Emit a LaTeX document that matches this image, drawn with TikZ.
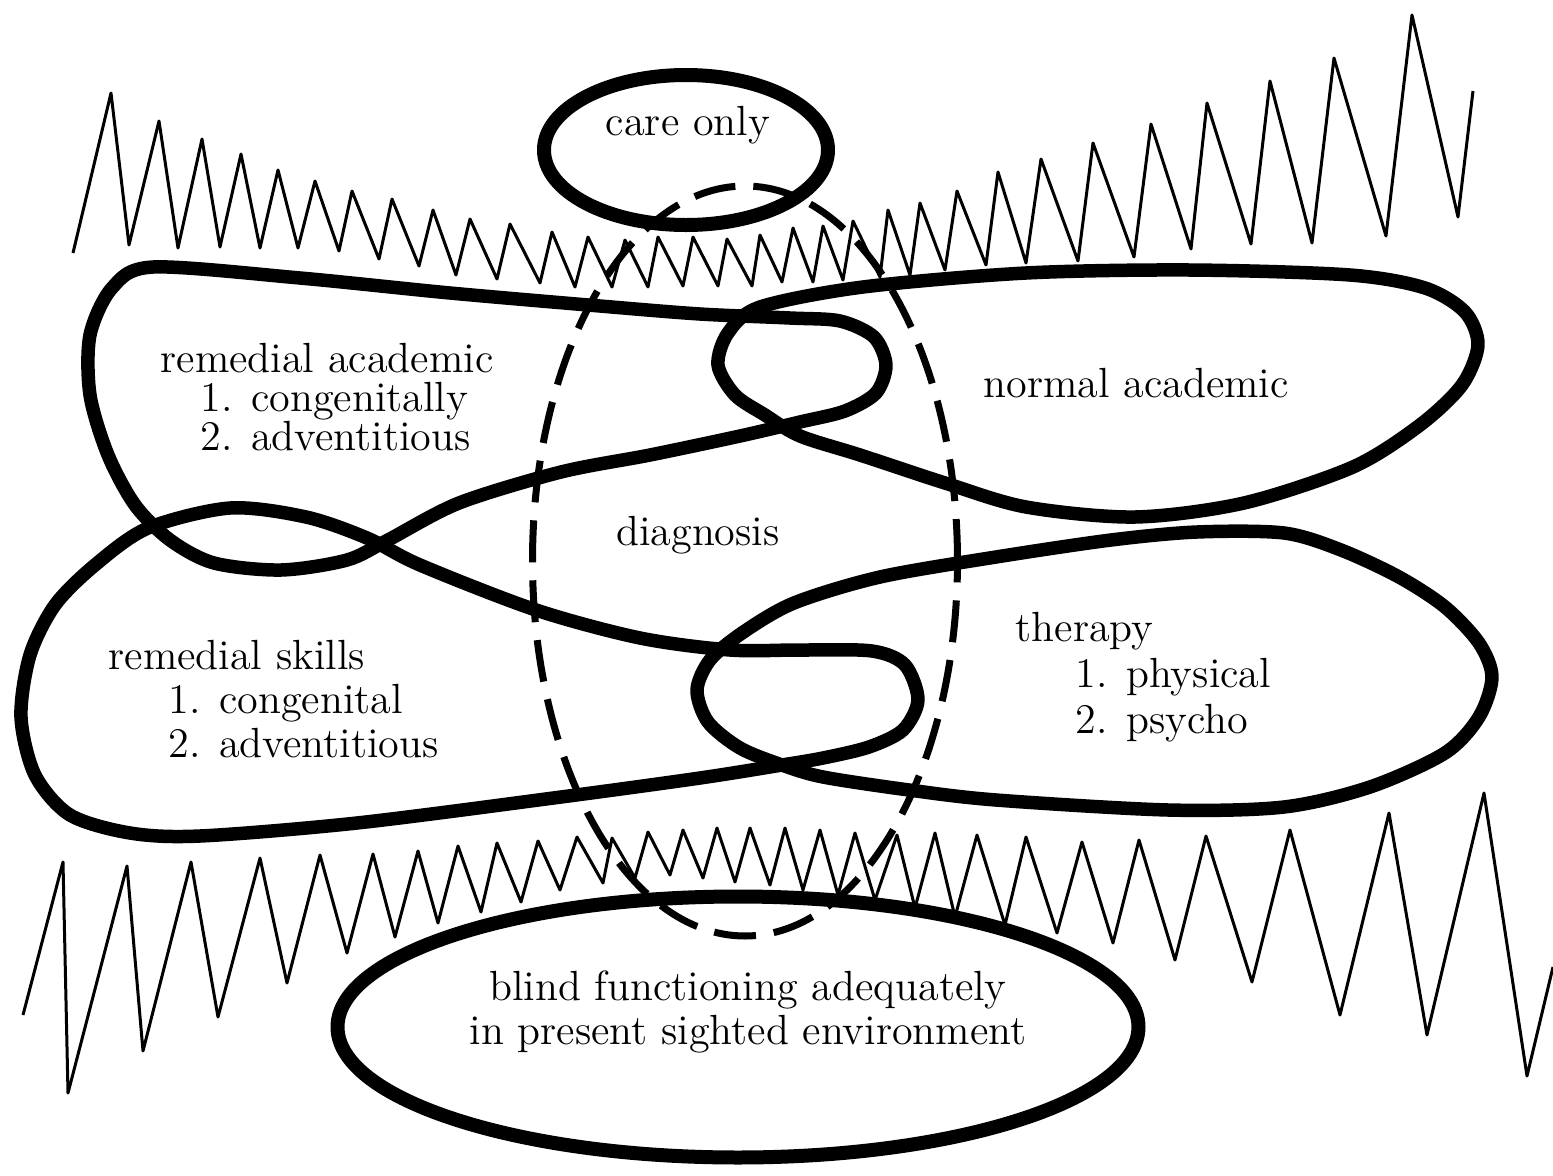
\documentclass[tikz,border=0pt]{standalone}
\usepackage{tikz}
\usetikzlibrary{shapes.geometric}

\begin{document}
\begin{tikzpicture}[x=0.1mm, y=-0.1mm,
  lobe/.style={line width=1.35mm, line join=round},
  oval/.style={draw, ellipse, line width=1.4mm, inner sep=0pt},
  probe/.style={draw, ellipse, line width=0.7mm, dash pattern=on 4.2mm off 1.8mm, inner sep=0pt},
  zig/.style={line width=0.3mm, line join=round},
  hand/.style={font=\fontsize{12}{11}\selectfont, inner sep=0pt, align=left}
]
  \useasboundingbox (0,0) rectangle (1553,1176);

  \draw[zig] plot coordinates {(73,253) (111,93) (129,245) (159,121) (178,248) (202,139) (220,247) (241,154) (260,248) (278,170) (298,248) (315,181) (339,251) (352,191) (379,259) (392,199) (419,266) (433,210) (456,275) (470,219) (497,279) (510,224) (540,283) (552,232) (575,287) (588,237) (612,287) (625,240) (648,287) (658,237) (683,286) (693,237) (718,286) (727,239) (752,286) (760,235) (782,282) (793,228) (813,282) (823,226) (843,280) (853,221) (880,277) (888,210) (910,275) (920,203) (945,270) (957,191) (986,265) (998,172) (1026,263) (1041,159) (1078,261) (1093,143) (1134,257) (1151,124) (1191,249) (1207,103) (1251,244) (1270,81) (1312,243) (1334,58) (1386,236) (1412,15) (1458,217) (1473,91)};
  \draw[zig] plot coordinates {(23,1015) (63,862) (68,1093) (127,866) (143,1051) (191,862) (218,1017) (260,858) (287,983) (320,855) (347,953) (373,854) (395,937) (418,851) (438,923) (458,846) (481,912) (497,843) (521,902) (538,841) (560,890) (577,837) (603,883) (612,838) (635,878) (648,832) (670,875) (683,830) (703,878) (717,828) (735,882) (750,828) (770,885) (785,828) (803,890) (820,830) (838,895) (855,833) (875,900) (897,835) (915,908) (935,833) (955,917) (977,835) (1005,925) (1026,837) (1057,933) (1082,842) (1113,943) (1139,840) (1175,960) (1206,836) (1252,982) (1290,830) (1340,1015) (1389,813) (1427,1035) (1484,793) (1527,1076) (1553,967)};

  \draw[lobe] plot[smooth cycle] coordinates {(153,267) (300,278) (450,293) (600,306) (700,314) (790,318) (840,321) (874,337) (886,365) (876,393) (845,411) (800,422) (740,436) (650,455) (561,472) (459,503) (388,540) (347,560) (281,570) (214,563) (170,540) (135,505) (108,455) (90,395) (90,335) (112,288)};
  \draw[lobe] plot[smooth cycle] coordinates {(760,307) (863,287) (1026,273) (1190,270) (1350,275) (1425,288) (1465,312) (1478,345) (1462,385) (1420,425) (1353,467) (1244,503) (1135,517) (1026,507) (945,483) (860,455) (800,436) (765,415) (735,395) (718,365) (728,333)};
  \draw[lobe] plot[smooth cycle] coordinates {(148,528) (230,508) (306,517) (367,538) (420,565) (536,610) (640,638) (730,650) (800,650) (872,651) (905,665) (918,700) (903,730) (869,747) (823,758) (782,765) (700,778) (561,797) (357,823) (200,836) (130,833) (70,815) (35,775) (21,717) (30,655) (55,605) (95,565)};
  \draw[lobe] plot[smooth cycle] coordinates {(782,765) (823,777) (909,790) (996,800) (1168,810) (1284,807) (1370,787) (1445,753) (1479,717) (1492,677) (1479,643) (1445,607) (1399,577) (1341,550) (1284,533) (1197,532) (1111,540) (996,557) (880,577) (794,603) (742,633) (710,660) (697,690) (708,722) (740,748)};

  \node[oval, minimum width=28.4mm, minimum height=15mm] (care) at (686,150) {};
  \node[oval, minimum width=80.1mm, minimum height=26.1mm] (blind) at (738,1027) {};
  \node[probe, minimum width=42.5mm, minimum height=75mm] (diag) at (745,561) {};

  \node[hand] (careText) at (688,125) {care only};
  \node[hand] (diagText) at (698,535) {diagnosis};
  \node[hand] (normAcad) at (1136,383) {normal academic};
  \node[hand, anchor=north west] (remAcad) at (160,343) {remedial academic\\\hspace*{4mm}1. congenitally\\\hspace*{4mm}2. adventitious};
  \node[hand, anchor=north west, font=\fontsize{12}{12.5}\selectfont] (remSkill) at (108,640) {remedial skills\\\hspace*{6mm}1. congenital\\\hspace*{6mm}2. adventitious};
  \node[hand, anchor=north west, font=\fontsize{12}{13}\selectfont] (therapy) at (1015,612) {therapy\\\hspace*{6mm}1. physical\\\hspace*{6mm}2. psycho};
  \node[hand, align=center, font=\fontsize{12}{12.5}\selectfont] (blindText) at (748,1012) {blind functioning adequately\\in present sighted environment};
\end{tikzpicture}
\end{document}
